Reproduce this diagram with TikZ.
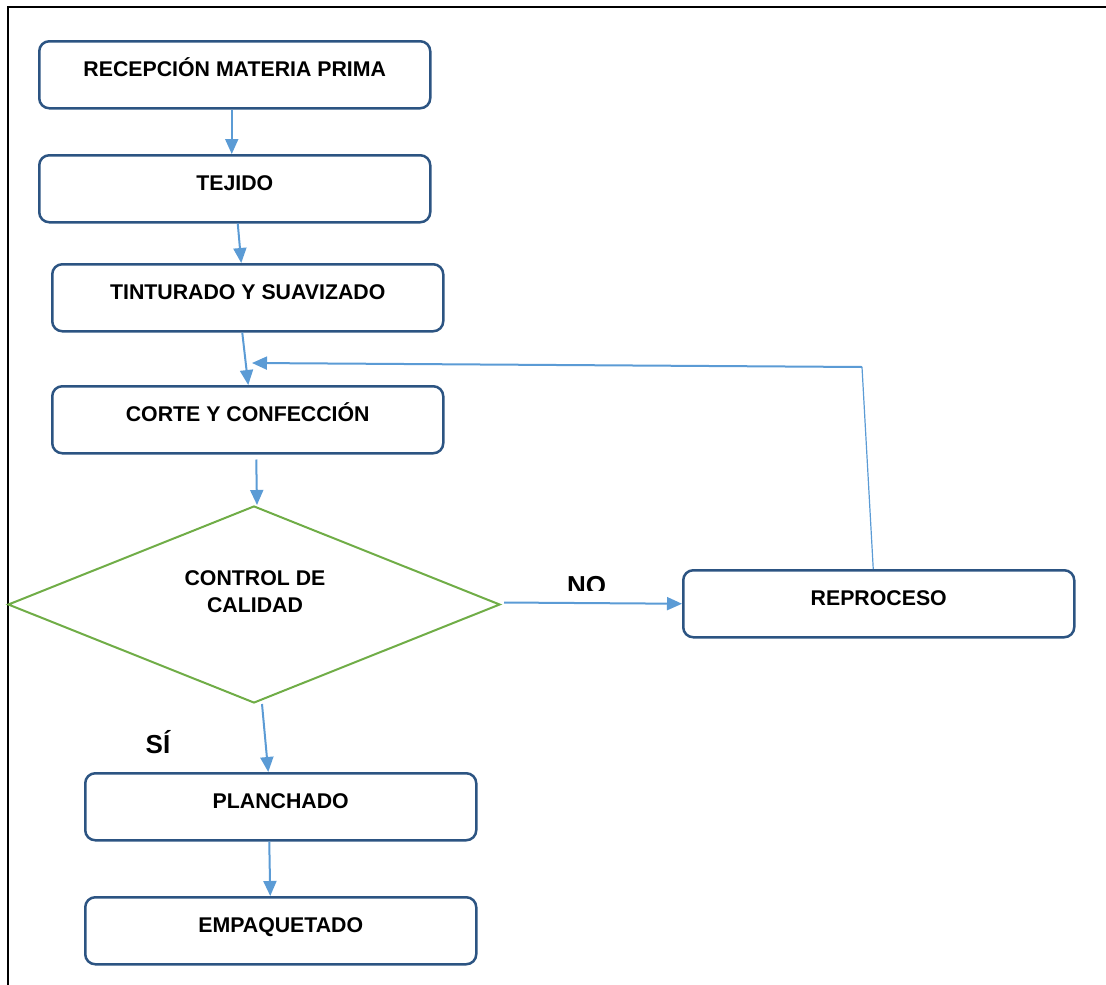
\documentclass[tikz,border=0pt]{standalone}
\usepackage{fontspec}
\setmainfont{Liberation Sans}
\usetikzlibrary{arrows.meta,shapes.geometric}
\definecolor{boxblue}{RGB}{44,84,130}
\definecolor{arrowblue}{RGB}{91,155,213}
\definecolor{decgreen}{RGB}{112,173,71}
\begin{document}
\begin{tikzpicture}[x=1pt,y=-1pt,
  font=\fontsize{21.3}{25}\selectfont\bfseries,
  stepbox/.style={draw=boxblue, line width=2.5pt, rounded corners=10pt,
    minimum width=391pt, minimum height=67pt, inner sep=0pt,
    text height=15pt, text depth=12pt, anchor=north west},
  decision/.style={draw=decgreen, line width=2pt, diamond, inner sep=0pt,
    minimum width=492pt, minimum height=197pt},
  flow/.style={draw=arrowblue, line width=2pt,
    -{Triangle[length=15pt,width=13pt]}},
  back/.style={draw=arrowblue, line width=1.2pt},
  branch/.style={font=\fontsize{26}{30}\selectfont\bfseries},
  frame/.style={draw=black, line width=2.5pt}]
\useasboundingbox (0,0) rectangle (1106,985);

% page frame (top and left edges)
\draw[frame] (1106,7) -- (8,7) -- (8,985);

% process steps
\node[stepbox] (b1) at (38,40)  {RECEPCIÓN MATERIA PRIMA};
\node[stepbox] (b2) at (38,154) {TEJIDO};
\node[stepbox] (b3) at (51,263) {TINTURADO Y SUAVIZADO};
\node[stepbox] (b4) at (51,385) {CORTE Y CONFECCIÓN};
\node[stepbox] (b5) at (682,569) {REPROCESO};
\node[stepbox] (b6) at (84,772) {PLANCHADO};
\node[stepbox] (b7) at (84,896) {EMPAQUETADO};

% quality check
\node[decision] (qc) at (254,604.5) {};
\node[align=center, font=\fontsize{21.3}{27}\selectfont\bfseries] (qctxt) at (255,592) {CONTROL DE\\CALIDAD};

% branch labels
\begin{scope}
  \clip (540,560) rectangle (640,590);
  \node[branch, anchor=base] (no) at (586.5,594) {NO};
\end{scope}
\node[branch] (si) at (158,742) {SÍ};

% main flow
\draw[flow] ([xshift=-3pt]b1.south) -- ([xshift=-3pt]b2.north);
\draw[flow] ([xshift=3pt]b2.south) -- ([xshift=-6.5pt]b3.north);
\draw[flow] ([xshift=-5.5pt]b3.south) -- ([xshift=0.5pt]b4.north);
\draw[flow] ([xshift=8.5pt,yshift=-5pt]b4.south) -- ([xshift=3pt]qc.north);
\draw[flow] ([xshift=8pt]qc.south) -- ([xshift=-12.5pt]b6.north);
\draw[flow] ([xshift=-11.5pt]b6.south) -- ([xshift=-10.5pt]b7.north);
\draw[flow] ([xshift=3pt,yshift=2pt]qc.east) -- (b5.west);

% rework loop back to cutting
\coordinate (turn) at (862,367);
\coordinate (ret) at (252,363);
\draw[back] ([xshift=-5.5pt]b5.north) -- (turn);
\draw[flow] (turn) -- (ret);
\end{tikzpicture}
\end{document}
